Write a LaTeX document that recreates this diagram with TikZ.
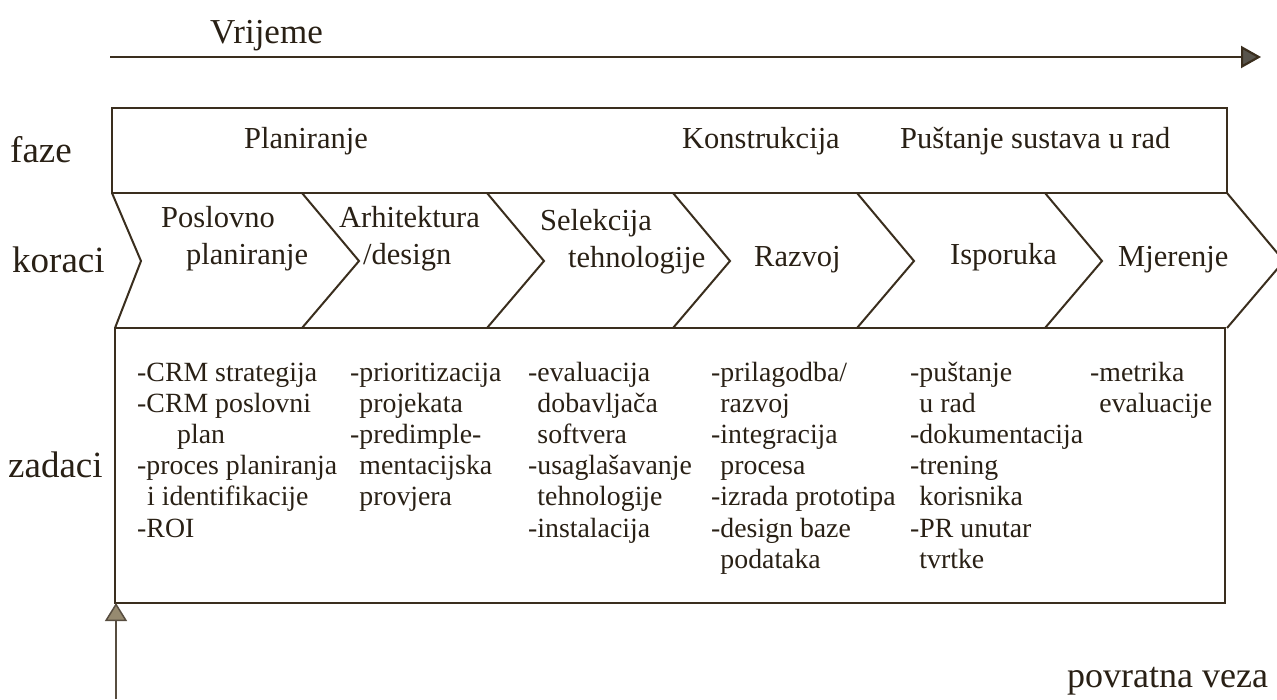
\documentclass[tikz,border=0pt]{standalone}
\usepackage{fontspec}
\setmainfont{Liberation Serif}
\usetikzlibrary{arrows.meta}

\definecolor{ink}{RGB}{58,46,30}
\definecolor{tipfill}{RGB}{88,84,76}
\definecolor{fbfill}{RGB}{150,138,112}

\tikzset{
  rowlabel/.style={anchor=base west, inner sep=0pt, font=\fontsize{37}{44}\selectfont},
  head/.style={anchor=base west, inner sep=0pt, align=left, font=\fontsize{30.5}{37}\selectfont},
  tasks/.style={anchor=base west, inner sep=0pt, align=left, font=\fontsize{27.8}{31.2}\selectfont},
  frame/.style={draw=ink, line width=2pt},
}

\begin{document}
\begin{tikzpicture}[x=1pt,y=-1pt,text=ink!70!black]
\useasboundingbox (0,0) rectangle (1277,699);

% time axis
\coordinate (t0) at (110,57);
\coordinate (t1) at (1261,57);
\draw[ink, line width=2.2pt, -{Triangle[length=20pt,width=22pt,fill=tipfill]}] (t0) -- (t1);
\node[rowlabel, font=\fontsize{35}{42}\selectfont] (vrijeme) at (210,43) {Vrijeme};

% frames: faze, koraci (chevrons), zadaci
\draw[frame] (112,108) rectangle (1227,193);
\draw[frame] (112,193) -- (1227,193) (115,328) -- (1225,328);
\draw[frame] (112,193) -- (141,261) -- (115,328);
\foreach \xb in {302,487,673,857,1045,1227}
  \draw[frame] (\xb,193) -- ++(57,68) -- ++(-57,67);
\draw[frame] (115,328) rectangle (1225,603);
\coordinate (zbox) at (116,603);

% row labels
\node[rowlabel] (faze) at (10,162) {faze};
\node[rowlabel] (koraci) at (12,272) {koraci};
\node[rowlabel] (zadaci) at (8,477) {zadaci};

% faze
\node[head] (planiranje) at (244,148) {Planiranje};
\node[head] (konstrukcija) at (682,148) {Konstrukcija};
\node[head] (pustanje) at (900,148) {Puštanje sustava u rad};

% koraci (base = last line)
\node[head] (kor1) at (161,264) {Poslovno\\\hspace*{25pt}planiranje};
\node[head] (kor2) at (339,264) {Arhitektura\\\hspace*{24pt}/design};
\node[head] (kor3) at (540,267) {Selekcija\\\hspace*{28pt}tehnologije};
\node[head] (kor4) at (754,266) {Razvoj};
\node[head] (kor5) at (950,264) {Isporuka};
\node[head] (kor6) at (1118,266) {Mjerenje};

% zadaci (base = last line)
\node[tasks] (zad1) at (137,537) {-CRM strategija\\-CRM poslovni\\\hspace*{40pt}plan\\-proces planiranja\\\hspace*{10pt}i identifikacije\\-ROI};
\node[tasks] (zad2) at (350,505.8) {-prioritizacija\\\hphantom{-}projekata\\-predimple-\\\hphantom{-}mentacijska\\\hphantom{-}provjera};
\node[tasks] (zad3) at (528,537) {-evaluacija\\\hphantom{-}dobavljača\\\hphantom{-}softvera\\-usaglašavanje\\\hphantom{-}tehnologije\\-instalacija};
\node[tasks] (zad4) at (711,568.2) {-prilagodba/\\\hphantom{-}razvoj\\-integracija\\\hphantom{-}procesa\\-izrada prototipa\\-design baze\\\hphantom{-}podataka};
\node[tasks] (zad5) at (910,568.2) {-puštanje\\\hphantom{-}u rad\\-dokumentacija\\-trening\\\hphantom{-}korisnika\\-PR unutar\\\hphantom{-}tvrtke};
\node[tasks] (zad6) at (1090,412.2) {-metrika\\\hphantom{-}evaluacije};

% povratna veza
\coordinate (fb0) at (116,699);
\draw[ink!85, line width=1.5pt, -{Triangle[length=18pt,width=22pt,fill=fbfill]}] (fb0) -- (zbox);
\node[rowlabel, font=\fontsize{36}{43}\selectfont] (povratna) at (1067,687) {povratna veza};
\end{tikzpicture}
\end{document}
